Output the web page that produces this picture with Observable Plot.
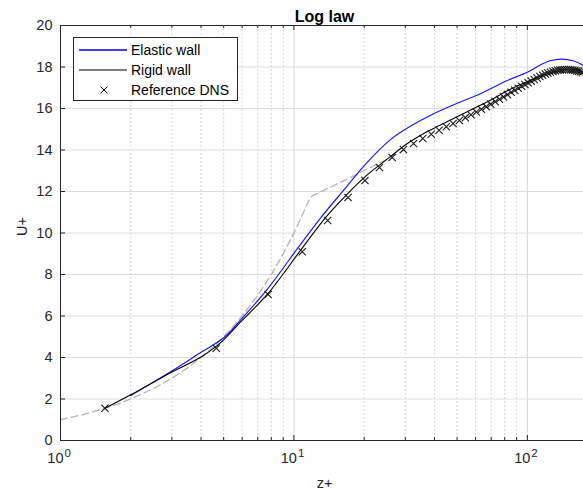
<!DOCTYPE html>
<html>
<head>
<meta charset="utf-8">
<script src="https://cdn.jsdelivr.net/npm/d3@7"></script>
<script src="https://cdn.jsdelivr.net/npm/@observablehq/plot@0.6"></script>
<style>
  html, body { margin: 0; padding: 0; background: #fff; overflow: hidden; }
  #wrap { position: relative; width: 583px; height: 500px; font-family: "Liberation Sans", Arial, Helvetica, sans-serif; color: #262626; }
  #legend { position: absolute; left: 73px; top: 37px; width: 165px; height: 64px; box-sizing: border-box;
            border: 1px solid #262626; background: #fff; }
  #legend .row { position: absolute; left: 0; height: 20px; width: 100%; }
  #legend .sw { position: absolute; left: 0; top: 0; }
  #legend .lbl { position: absolute; left: 57px; top: 1px; font-size: 14px; line-height: 18px; color: #000; white-space: nowrap; }
</style>
</head>
<body>
<div id="wrap">
  <div id="chart"></div>
  <div id="legend">
    <div class="row" style="top:2px"><svg class="sw" width="56" height="20"><line x1="5" y1="10" x2="53" y2="10" stroke="#0000ff" stroke-width="1.4"/></svg><span class="lbl">Elastic wall</span></div>
    <div class="row" style="top:22px"><svg class="sw" width="56" height="20"><line x1="5" y1="10" x2="53" y2="10" stroke="#000" stroke-width="1.1"/></svg><span class="lbl">Rigid wall</span></div>
    <div class="row" style="top:42px"><svg class="sw" width="56" height="20"><path d="M26.5,6.5L33.5,13.5M33.5,6.5L26.5,13.5" stroke="#1a1a1a" stroke-width="1"/></svg><span class="lbl">Reference DNS</span></div>
  </div>
</div>
<script>
// ---- data ----
const elasticZ = [2.0, 3.0, 4.0, 5.0, 5.9, 7.7, 10.67, 13.0, 16.3, 20.6, 25.9, 30.5, 39.7, 50, 62.9, 69.5, 82, 100, 113.7, 125, 140, 157, 174, 185];
const elasticU = [2.17, 3.35, 4.25, 4.95, 5.8, 7.3, 9.45, 10.72, 12.05, 13.4, 14.5, 15.05, 15.75, 16.25, 16.71, 16.95, 17.35, 17.75, 18.1, 18.3, 18.38, 18.3, 18.07, 17.85];

const rigidZ = [1.55, 2.0, 3.0, 4.0, 4.6, 5.0, 5.9, 7.7, 10.67, 13.6, 17.0, 20.6, 25.9, 30.5, 36, 42.4, 50, 58.9, 69.5, 82, 100, 120, 140, 153, 165, 174, 185];
const rigidU = [1.55, 2.2, 3.3, 4.02, 4.5, 4.85, 5.7, 7.05, 9.16, 10.72, 11.9, 12.8, 13.68, 14.3, 14.8, 15.2, 15.6, 16.0, 16.4, 16.85, 17.3, 17.65, 17.85, 17.9, 17.85, 17.72, 17.5];

const dnsZ = [1.55, 4.65, 7.75, 10.85, 13.95, 17.05, 20.15, 23.25, 26.35, 29.45, 32.55, 35.65, 38.75, 41.85, 44.95, 48.05, 51.15, 54.25, 57.35, 60.45, 63.55, 66.65, 69.75, 72.85, 75.95, 79.05, 82.15, 85.25, 88.35, 91.45, 94.55, 97.65, 100.75, 103.85, 106.95, 110.05, 113.15, 116.25, 119.35, 122.45, 125.55, 128.65, 131.75, 134.85, 137.95, 141.05, 144.15, 147.25, 150.35, 153.45, 156.55, 159.65, 162.75, 165.85, 168.95, 172.05];
const dnsU = [1.55, 4.45, 7.04, 9.10, 10.60, 11.71, 12.53, 13.16, 13.64, 14.02, 14.31, 14.55, 14.76, 14.95, 15.12, 15.28, 15.42, 15.56, 15.70, 15.83, 15.96, 16.09, 16.21, 16.33, 16.45, 16.56, 16.67, 16.78, 16.88, 16.98, 17.07, 17.16, 17.24, 17.32, 17.40, 17.47, 17.54, 17.60, 17.66, 17.71, 17.75, 17.79, 17.82, 17.84, 17.86, 17.87, 17.88, 17.88, 17.88, 17.87, 17.86, 17.84, 17.82, 17.80, 17.77, 17.74];

const lawZ = [1, 1.25, 1.5, 1.75, 2, 2.5, 3, 3.5, 4, 4.5, 5, 5.5, 6, 7, 8, 9, 10, 11, 11.5, 12.0, 14.3, 17.5, 21, 25, 30];
const lawU = [1, 1.25, 1.5, 1.75, 2, 2.5, 3, 3.5, 4, 4.5, 5, 5.5, 6, 7, 8, 9, 10, 11, 11.5, 11.8, 12.2, 12.68, 13.13, 13.55, 14.0];

const xMajor = [1, 10, 100];
const xExp = ["0", "1", "2"];
const xMinor = [2, 3, 4, 5, 6, 7, 8, 9, 20, 30, 40, 50, 60, 70, 80, 90];
const yTicks = [0, 2, 4, 6, 8, 10, 12, 14, 16, 18, 20];

const titleText = "Log law";
const xLabel = "z+";
const yLabel = "U+";

// ---- layout ----
const W = 583, H = 500, mL = 60, mR = 0, mT = 25, mB = 60;
const xMax = 174;
const yPerPx = 20 / (H - mT - mB);
const xLogPerPx = Math.log10(xMax) / (W - mL - mR);
const tMaj = 5, tMin = 3;

const rows = (zs, us) => zs.map((z, i) => ({z, u: us[i]}));
const axisCol = "#262626";

const chart = Plot.plot({
  width: W, height: H,
  marginLeft: mL, marginRight: mR, marginTop: mT, marginBottom: mB,
  x: {type: "log", domain: [1, xMax], axis: null},
  y: {domain: [0, 20], axis: null},
  style: {fontFamily: "'Liberation Sans', Arial, Helvetica, sans-serif", color: axisCol, background: "white", overflow: "visible"},
  marks: [
    // grid
    Plot.ruleX(xMinor, {x: d => d, stroke: "#bdbdbd", strokeWidth: 0.8, strokeDasharray: "1.5,2.5"}),
    Plot.ruleX(xMajor.filter(v => v > 1), {x: d => d, stroke: "#d8d8d8", strokeWidth: 1}),
    Plot.ruleY(yTicks.filter(v => v > 0 && v < 20), {y: d => d, stroke: "#dedede", strokeWidth: 1}),
    // data
    Plot.line(rows(lawZ, lawU), {x: "z", y: "u", stroke: "#b4b4b4", strokeWidth: 1.3, strokeDasharray: "7,4", clip: true}),
    Plot.line(rows(elasticZ, elasticU), {x: "z", y: "u", stroke: "#1a1aff", strokeWidth: 1.2, curve: "catmull-rom", clip: true}),
    Plot.line(rows(rigidZ, rigidU), {x: "z", y: "u", stroke: "#000", strokeWidth: 1.1, curve: "catmull-rom", clip: true}),
    Plot.dot(rows(dnsZ, dnsU), {x: "z", y: "u", symbol: "times", r: 3.4, stroke: "#1a1a1a", strokeWidth: 1.1, clip: true}),
    // axes box
    Plot.ruleX([1], {x: d => d, stroke: axisCol, strokeWidth: 1}),
    Plot.ruleY([0, 20], {y: d => d, stroke: axisCol, strokeWidth: 1}),
    // ticks (inward)
    Plot.ruleX(xMajor, {x: d => d, y1: 0, y2: tMaj * yPerPx, stroke: axisCol}),
    Plot.ruleX(xMajor, {x: d => d, y1: 20, y2: 20 - tMaj * yPerPx, stroke: axisCol}),
    Plot.ruleX(xMinor, {x: d => d, y1: 0, y2: tMin * yPerPx, stroke: axisCol}),
    Plot.ruleX(xMinor, {x: d => d, y1: 20, y2: 20 - tMin * yPerPx, stroke: axisCol}),
    Plot.ruleY(yTicks, {y: d => d, x1: 1, x2: 10 ** (tMaj * xLogPerPx), stroke: axisCol}),
    // tick labels
    Plot.text(xMajor, {x: d => d, text: () => "10", frameAnchor: "bottom", textAnchor: "end", dx: 3, dy: 22, fontSize: 14.5, fill: axisCol}),
    Plot.text(xMajor.map((v, i) => ({v, e: xExp[i]})), {x: "v", text: "e", frameAnchor: "bottom", textAnchor: "start", dx: 4, dy: 16, fontSize: 11.5, fill: axisCol}),
    Plot.text(yTicks, {y: d => d, text: d => String(d), frameAnchor: "left", textAnchor: "end", dx: -8, fontSize: 14.5, fill: axisCol}),
    // labels
    Plot.text([xLabel], {text: d => d, frameAnchor: "bottom", dx: 2.5, dy: 47, fontSize: 14.5, fill: axisCol}),
    Plot.text([yLabel], {text: d => d, frameAnchor: "left", rotate: -90, dx: -38, dy: 3, fontSize: 14.5, fill: axisCol}),
    Plot.text([titleText], {text: d => d, frameAnchor: "top", dx: 2.5, dy: -15, fontSize: 16, fontWeight: "bold", fill: "#000"})
  ]
});
document.getElementById("chart").appendChild(chart);
</script>
</body>
</html>
